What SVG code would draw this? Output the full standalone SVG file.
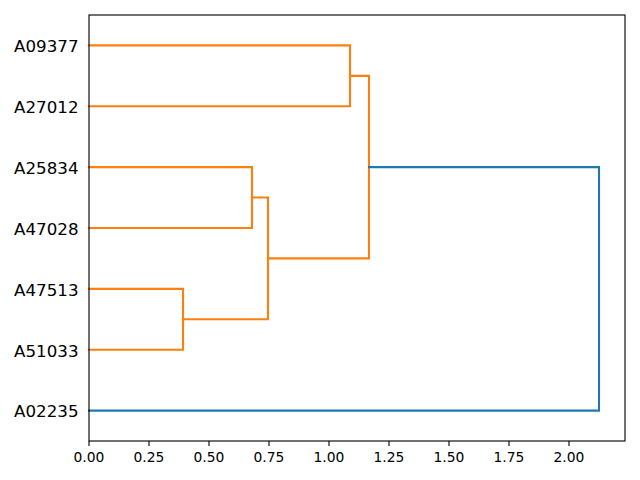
<svg xmlns="http://www.w3.org/2000/svg" width="640" height="480" viewBox="0 0 640 480">
<style>
.o{fill:none;stroke:#ff7f0e;stroke-width:2.08;stroke-linejoin:miter;stroke-linecap:square}
.b{fill:none;stroke:#1f77b4;stroke-width:2.08;stroke-linecap:square}
.yl{font-family:"DejaVu Sans",sans-serif;font-size:16.67px;fill:#000;text-anchor:end}
.xl{font-family:"DejaVu Sans",sans-serif;font-size:13.89px;fill:#000;text-anchor:middle}
.tk{stroke:#000;stroke-width:1.11}
</style>
<rect width="640" height="480" fill="#fff"/>
<g id="connectors">
<path class="o" d="M89,45.4H350V106.3H89"/>
<path class="o" d="M89,167.1H252V228H89"/>
<path class="o" d="M89,288.9H183V349.7H89"/>
<path class="o" d="M252,197.5H268V319.3H183"/>
<path class="o" d="M350,75.9H369V258.4H268"/>
<path class="b" d="M369,167.1H599V410.6H89"/>
</g>
<g id="axes">
<rect x="89" y="15" width="536" height="426" fill="none" stroke="#000" stroke-width="1.11"/>
<g class="tk">
<line x1="89" y1="441" x2="89" y2="445.9"/>
<line x1="149" y1="441" x2="149" y2="445.9"/>
<line x1="209" y1="441" x2="209" y2="445.9"/>
<line x1="269" y1="441" x2="269" y2="445.9"/>
<line x1="329" y1="441" x2="329" y2="445.9"/>
<line x1="389" y1="441" x2="389" y2="445.9"/>
<line x1="449" y1="441" x2="449" y2="445.9"/>
<line x1="509" y1="441" x2="509" y2="445.9"/>
<line x1="569" y1="441" x2="569" y2="445.9"/>
</g>
<text class="xl" x="89" y="462">0.00</text>
<text class="xl" x="149" y="462">0.25</text>
<text class="xl" x="209" y="462">0.50</text>
<text class="xl" x="269" y="462">0.75</text>
<text class="xl" x="329" y="462">1.00</text>
<text class="xl" x="389" y="462">1.25</text>
<text class="xl" x="449" y="462">1.50</text>
<text class="xl" x="509" y="462">1.75</text>
<text class="xl" x="569" y="462">2.00</text>
</g>
<g id="A09377"><text class="yl" x="78.5" y="52.2">A09377</text></g>
<g id="A27012"><text class="yl" x="78.5" y="113.1">A27012</text></g>
<g id="A25834"><text class="yl" x="78.5" y="173.9">A25834</text></g>
<g id="A47028"><text class="yl" x="78.5" y="234.8">A47028</text></g>
<g id="A47513"><text class="yl" x="78.5" y="295.7">A47513</text></g>
<g id="A51033"><text class="yl" x="78.5" y="356.5">A51033</text></g>
<g id="A02235"><text class="yl" x="78.5" y="417.4">A02235</text></g>
</svg>
